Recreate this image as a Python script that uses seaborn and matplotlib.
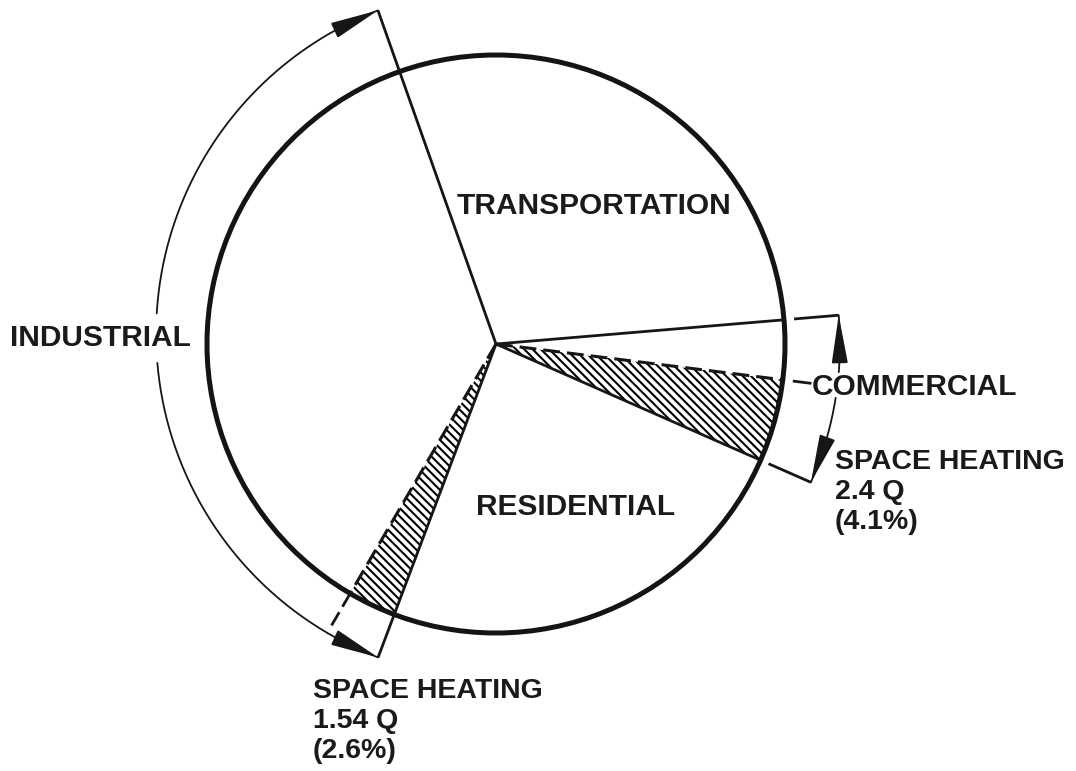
import numpy as np
import matplotlib
matplotlib.use("Agg")
import matplotlib.pyplot as plt
import seaborn as sns
from matplotlib.patches import Circle, ArrowStyle

sns.set_theme(style="white")
plt.rcParams['font.family'] = ['Liberation Sans', 'DejaVu Sans']
plt.rcParams['hatch.linewidth'] = 1.5

# sectors of the pie, in percent, counter-clockwise from the first edge
sectors = ["TRANSPORTATION", "INDUSTRIAL", "INDUSTRIAL SPACE HEATING",
           "RESIDENTIAL", "COMMERCIAL SPACE HEATING", "COMMERCIAL"]
shares = [29.08, 36.17, 2.69, 24.14, 4.61, 3.31]
hatched = [False, False, True, False, True, False]
start_angle = 4.8

commercial_note = "SPACE HEATING\n2.4 Q\n(4.1%)"
industrial_note = "SPACE HEATING\n1.54 Q\n(2.6%)"

# edges of every wedge, degrees
edges = start_angle + 360 * np.cumsum([0] + shares) / 100

W, H = 1076, 771
cx, cy, R = 496, 344, 289

fig = plt.figure(figsize=(W / 100, H / 100), dpi=100)
ax = fig.add_axes([0, 0, 1, 1])

wedges, _ = ax.pie(shares, startangle=start_angle, counterclock=True, radius=1,
                   center=(0, 0), colors=["white"] * len(shares),
                   wedgeprops=dict(linewidth=0, edgecolor="black"))
for w, h in zip(wedges, hatched):
    if h:
        w.set_hatch("\\" * 4)

ax.add_patch(Circle((0, 0), 1, fill=False, lw=3.6, ec="#141414", zorder=5))

ink = "#161616"
dash = (0, (5.5, 2.3))


def unit(a):
    a = np.radians(a)
    return np.array([np.cos(a), np.sin(a)])


def ray(a, r0, r1, **kw):
    u = unit(a)
    ax.plot([r0 * u[0], r1 * u[0]], [r0 * u[1], r1 * u[1]], color=ink,
            solid_capstyle="butt", zorder=6, **kw)


def arc_pts(c, r, a0, a1, n=200):
    t = np.radians(np.linspace(a0, a1, n))
    return c[0] + r * np.cos(t), c[1] + r * np.sin(t)


head = ArrowStyle("-|>", head_length=2.5, head_width=0.42)


def arrow_on_arc(c, r, a_end, a_back):
    tip = np.array(c) + r * unit(a_end)
    back = np.array(c) + r * unit(a_back)
    ax.annotate("", xy=tip, xytext=back,
                arrowprops=dict(arrowstyle=head, color=ink, lw=1.3,
                                shrinkA=0, shrinkB=0), zorder=7)


# radial edges inside the pie
for a in [edges[0], edges[3], edges[4]]:
    ray(a, 0, 1, lw=2.0)
for a in [edges[2], edges[5]]:
    ray(a, 0, 1, lw=2.2, linestyle=dash)

# industrial bracket: arc around a slightly shifted centre
ic, ir = np.array([0.024, 0.035]), 1.20


def hit(a):
    u = unit(a)
    b = u @ ic
    t = b + np.sqrt(b * b - ic @ ic + ir * ir)
    p = t * u
    return t, np.degrees(np.arctan2(p[1] - ic[1], p[0] - ic[0])) % 360


t_top, phi_top = hit(edges[1])
t_bot, phi_bot = hit(edges[3])
ray(edges[1], 0, t_top, lw=2.0)
ray(edges[3], 1, t_bot, lw=2.0)
ray(edges[2], 1, 1.14, lw=2.0, linestyle=dash)

for a0, a1 in [(phi_top, 176.6), (184.8, phi_bot)]:
    x, y = arc_pts(ic, ir, a0, a1)
    ax.plot(x, y, color=ink, lw=1.3, zorder=6)
arrow_on_arc(ic, ir, phi_top, phi_top + 7)
arrow_on_arc(ic, ir, phi_bot, phi_bot - 7)

# commercial bracket
cr = 1.19
lo = edges[4] - 360
ray(edges[0], 1.035, cr, lw=2.0)
ray(lo, 1.03, cr, lw=2.0)
ray(edges[5], 1.035, 1.10, lw=2.0)
for a0, a1 in [(edges[0], -4.7), (-9.0, lo)]:
    x, y = arc_pts((0, 0), cr, a0, a1)
    ax.plot(x, y, color=ink, lw=1.3, zorder=6)
arrow_on_arc((0, 0), cr, edges[0], edges[0] - 7)
arrow_on_arc((0, 0), cr, lo, lo + 7)


def px(x, y):
    return (x - cx) / R, (cy - y) / R


txt = dict(fontsize=21.5, fontweight="bold", color="#1a1a1a", zorder=8)
note = dict(txt, fontsize=20.5, linespacing=1.2)
ax.text(*px(594, 206), sectors[0], ha="center", va="center", **txt)
ax.text(*px(10, 338), sectors[1], ha="left", va="center", **txt)
ax.text(*px(576, 507), sectors[3], ha="center", va="center", **txt)
ax.text(*px(812, 387), sectors[5], ha="left", va="center", **txt)
ax.text(*px(835, 492), commercial_note, ha="left", va="center", **note)
ax.text(*px(313, 721), industrial_note, ha="left", va="center", **note)

ax.set_xlim(-cx / R, (W - cx) / R)
ax.set_ylim((cy - H) / R, cy / R)
ax.set_aspect("auto")
ax.axis("off")

fig.savefig("out.png", dpi=100, facecolor="white")
